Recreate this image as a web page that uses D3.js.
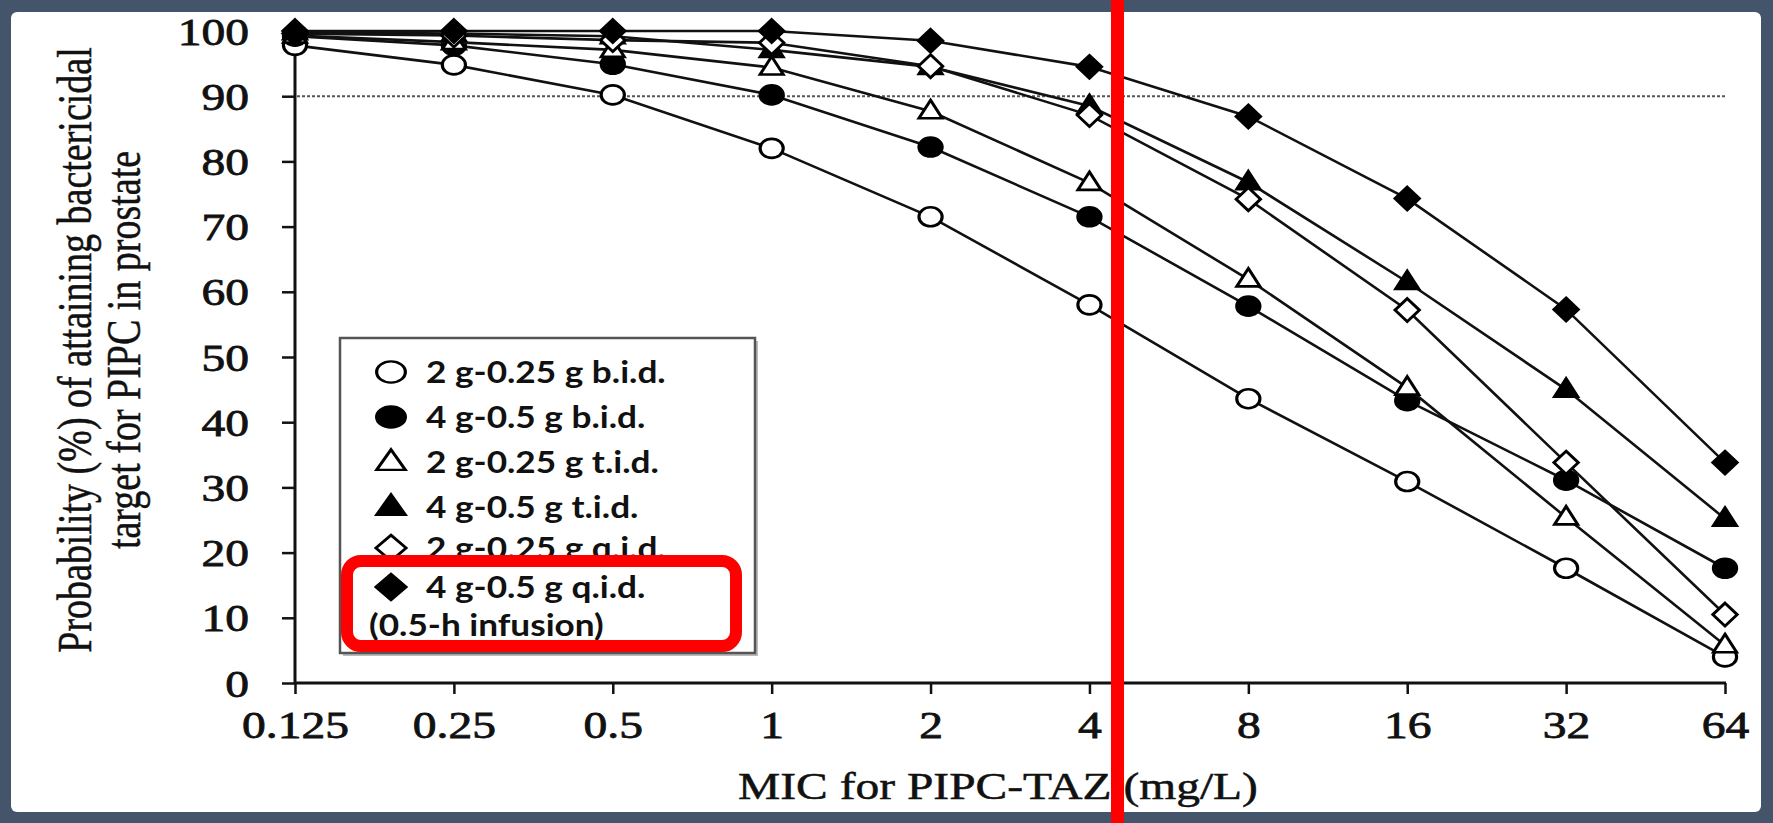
<!DOCTYPE html>
<html>
<head>
<meta charset="utf-8">
<script src="https://cdn.jsdelivr.net/npm/d3@7"></script>
<style>
  html, body { margin: 0; padding: 0; background: #ffffff; }
  svg { display: block; }
</style>
</head>
<body>
<svg id="chart" width="1773" height="823"></svg>
<script>
// MIC values on the x axis (log2 scale) and their labels
const micValues = [0.125, 0.25, 0.5, 1, 2, 4, 8, 16, 32, 64];
const micLabels = ["0.125", "0.25", "0.5", "1", "2", "4", "8", "16", "32", "64"];
const yTickValues = [0, 10, 20, 30, 40, 50, 60, 70, 80, 90, 100];
const targetLine = 90;

// Probability (%) of attaining the bactericidal target, per regimen
const bid2g = [97.8, 94.8, 90.2, 82.0, 71.5, 58.0, 43.6, 30.9, 17.6, 4.0];
const bid4g = [99.2, 97.8, 94.9, 90.2, 82.2, 71.5, 57.8, 43.3, 31.1, 17.6];
const tid2g = [99.3, 98.3, 97.1, 94.4, 87.7, 76.7, 61.9, 45.3, 25.4, 5.8];
const tid4g = [99.8, 99.6, 99.2, 97.1, 94.5, 88.5, 76.8, 61.5, 45.0, 25.2];
const qid2g = [99.6, 99.3, 98.6, 98.2, 94.6, 87.1, 74.2, 57.2, 33.8, 10.5];
const qid4g = [100, 100, 100, 100, 98.5, 94.5, 86.9, 74.3, 57.3, 33.8];

const seriesNames = [
  "2 g-0.25 g b.i.d.",
  "4 g-0.5 g b.i.d.",
  "2 g-0.25 g t.i.d.",
  "4 g-0.5 g t.i.d.",
  "2 g-0.25 g q.i.d.",
  "4 g-0.5 g q.i.d."
];
const seriesValues = [bid2g, bid4g, tid2g, tid4g, qid2g, qid4g];
const seriesShapes = ["circle", "circle", "triangle", "triangle", "diamond", "diamond"];
const seriesFilled = [false, true, false, true, false, true];
const legendNote = "(0.5-h infusion)";

const xTitle = "MIC for PIPC-TAZ (mg/L)";
const yTitleLines = ["Probability (%) of attaining bactericidal", "target for PIPC in prostate"];

// ---- layout ----
const W = 1773, H = 823;
const frameColor = "#44546a";
const frameWidth = 11;
const SX = 1.25;      // horizontal stretch of the serif text
const LX = 1.135;     // horizontal stretch of the legend text
const MX = 1.22;      // horizontal stretch of the markers
const serif = "'Liberation Serif', 'Times New Roman', serif";
const sans = "Lato, 'Open Sans', sans-serif";

const svg = d3.select("#chart");

// slate frame around a white panel
svg.append("rect").attr("x", 0).attr("y", 0).attr("width", W).attr("height", H).attr("fill", frameColor);
svg.append("rect")
  .attr("x", frameWidth).attr("y", frameWidth + 1)
  .attr("width", W - 2 * frameWidth - 1).attr("height", H - 2 * frameWidth - 1)
  .attr("rx", 6).attr("fill", "#ffffff");

const x = d3.scaleLog().base(2).domain([0.125, 64]).range([295, 1725]);
const y = d3.scaleLinear().domain([0, 100]).range([683, 31]);

// ---- axes ----
const xAxis = d3.axisBottom(x)
  .tickValues(micValues)
  .tickFormat((d, i) => micLabels[i])
  .tickSize(11)
  .tickSizeOuter(0);

const gx = svg.append("g").attr("transform", `translate(0,${y(0)})`).call(xAxis);
gx.select(".domain").attr("stroke", "#111").attr("stroke-width", 3)
  .attr("d", `M${x(0.125) - 1},0H${x(64) + 1}`);
gx.selectAll(".tick line").attr("stroke", "#111").attr("stroke-width", 2.5);
gx.selectAll(".tick text")
  .attr("y", 0).attr("dy", 0)
  .attr("fill", "#111").attr("stroke", "#111").attr("stroke-width", 0.8)
  .attr("font-family", serif).attr("font-size", 38)
  .attr("text-anchor", "middle")
  .attr("transform", `translate(0,55) scale(${SX},1)`);

const yAxis = d3.axisLeft(y)
  .tickValues(yTickValues)
  .tickSize(13)
  .tickSizeOuter(0);

const gy = svg.append("g").attr("transform", `translate(${x(0.125)},0)`).call(yAxis);
gy.select(".domain").attr("stroke", "#111").attr("stroke-width", 3)
  .attr("d", `M0,${y(0) + 1}V${y(100) - 3}`);
gy.selectAll(".tick line").attr("stroke", "#111").attr("stroke-width", 2.5);
gy.selectAll(".tick text")
  .attr("x", 0).attr("dy", 0)
  .attr("fill", "#111").attr("stroke", "#111").attr("stroke-width", 0.8)
  .attr("font-family", serif).attr("font-size", 38)
  .attr("text-anchor", "end")
  .attr("transform", `translate(-46,13) scale(${SX},1)`);

// 90 % target reference line
svg.append("line")
  .attr("x1", x(0.125) + 2).attr("x2", x(64))
  .attr("y1", y(targetLine)).attr("y2", y(targetLine))
  .attr("stroke", "#555").attr("stroke-width", 2)
  .attr("stroke-dasharray", "3,2");

// axis titles
svg.append("text")
  .attr("font-family", serif).attr("font-size", 38)
  .attr("fill", "#111").attr("stroke", "#111").attr("stroke-width", 0.5)
  .attr("text-anchor", "middle")
  .attr("transform", `translate(998,799) scale(${SX},1)`)
  .text(xTitle);

const yTitleBaselines = [91, 140];
yTitleLines.forEach((line, i) => {
  svg.append("text")
    .attr("font-family", serif).attr("font-size", 38)
    .attr("fill", "#111").attr("stroke", "#111").attr("stroke-width", 0.4)
    .attr("text-anchor", "middle")
    .attr("transform", `translate(${yTitleBaselines[i]},350) scale(${SX},1) rotate(-90)`)
    .text(line);
});

// ---- marker shapes ----
function markerPath(shape, k) {
  if (shape === "circle") {
    const r = 9.5 * k;
    return `M${-r},0A${r},${r} 0 1,0 ${r},0A${r},${r} 0 1,0 ${-r},0Z`;
  }
  if (shape === "triangle") {
    return `M0,${-11 * k}L${9.5 * k},${7 * k}L${-9.5 * k},${7 * k}Z`;
  }
  return `M0,${-11.5 * k}L${10 * k},0L0,${11.5 * k}L${-10 * k},0Z`;
}

// ---- series ----
const line = d3.line().x((d, i) => x(micValues[i])).y(d => y(d));

seriesValues.forEach((vals, s) => {
  const g = svg.append("g");
  g.append("path")
    .attr("d", line(vals))
    .attr("fill", "none").attr("stroke", "#111").attr("stroke-width", 2.6);
  g.selectAll("path.mk")
    .data(vals)
    .join("path")
    .attr("class", "mk")
    .attr("d", markerPath(seriesShapes[s], 1))
    .attr("transform", (d, i) => `translate(${x(micValues[i])},${y(d)}) scale(${MX},1)`)
    .attr("fill", seriesFilled[s] ? "#000" : "#fff")
    .attr("stroke", "#000").attr("stroke-width", 2.6);
});

// ---- legend ----
const legend = svg.append("g");
legend.append("rect")
  .attr("x", 343).attr("y", 341).attr("width", 415).attr("height", 315)
  .attr("fill", "#bbb");
legend.append("rect")
  .attr("x", 340).attr("y", 338).attr("width", 415).attr("height", 315)
  .attr("fill", "#fff").attr("stroke", "#555").attr("stroke-width", 2.5);

const legendBaselines = [383, 428, 473, 518, 559, 598];
seriesNames.forEach((name, s) => {
  const by = legendBaselines[s];
  legend.append("path")
    .attr("d", markerPath(seriesShapes[s], 1.12))
    .attr("transform", `translate(391,${by - 11}) scale(1.35,1)`)
    .attr("fill", seriesFilled[s] ? "#000" : "#fff")
    .attr("stroke", "#000").attr("stroke-width", 2.4);
  legend.append("text")
    .attr("font-family", sans).attr("font-weight", 700).attr("font-size", 31)
    .attr("fill", "#111")
    .attr("transform", `translate(426,${by}) scale(${LX},1)`)
    .text(name);
});
legend.append("text")
  .attr("font-family", sans).attr("font-weight", 700).attr("font-size", 31)
  .attr("fill", "#111")
  .attr("transform", `translate(369,636) scale(${LX},1)`)
  .text(legendNote);

// ---- red highlight annotations ----
svg.append("rect")
  .attr("x", 347).attr("y", 561).attr("width", 389).attr("height", 85)
  .attr("rx", 14).attr("ry", 14)
  .attr("fill", "none").attr("stroke", "#ff0000").attr("stroke-width", 12);

svg.append("rect")
  .attr("x", 1111).attr("y", 0).attr("width", 13).attr("height", H)
  .attr("fill", "#ff0000");
</script>
</body>
</html>
